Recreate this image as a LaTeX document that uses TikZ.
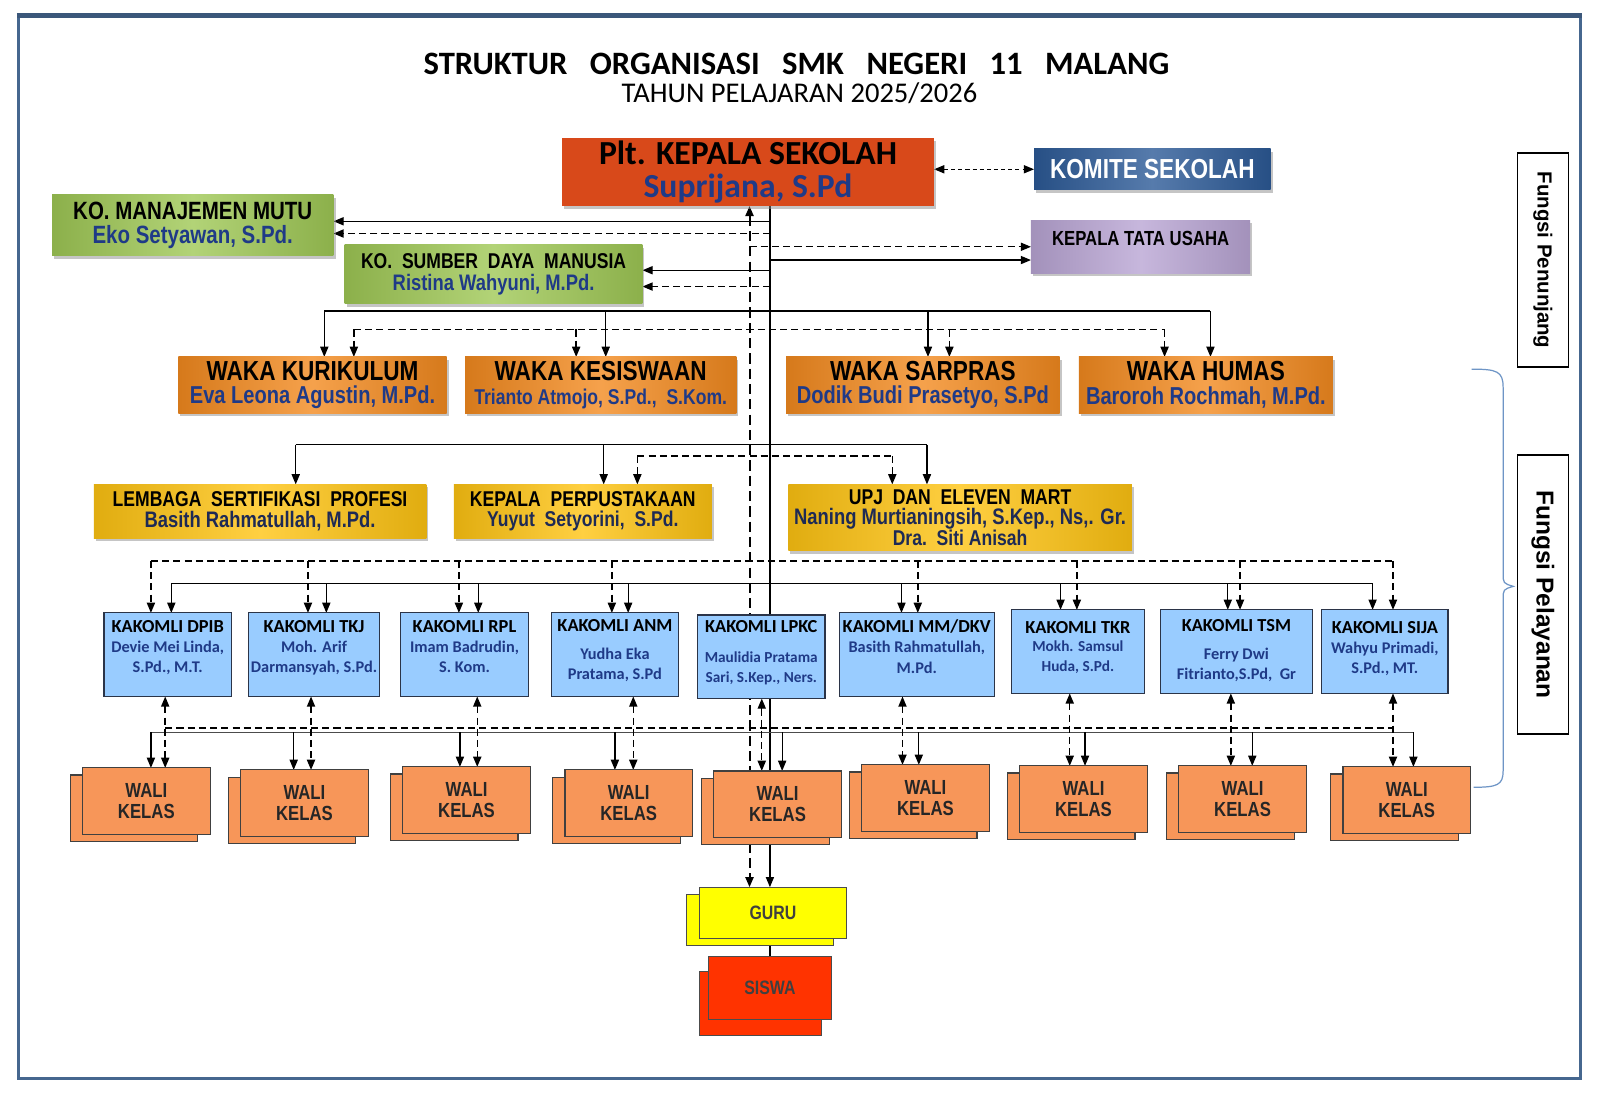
\documentclass[tikz,border=0pt]{standalone}
\usepackage{fontspec}
\setmainfont{Carlito}
\newfontfamily\narrowfont[FakeStretch=0.82]{Liberation Sans}
\newfontfamily\arialfont{Liberation Sans}
\usetikzlibrary{arrows.meta,shadows,backgrounds}
\definecolor{frameblue}{HTML}{46678F}
\definecolor{ksred}{HTML}{D8491A}
\definecolor{namblue}{HTML}{1F3A87}
\definecolor{yelname}{HTML}{1E2A55}
\definecolor{komblue}{HTML}{2C5A97}
\definecolor{tulilac}{HTML}{B9A5D4}
\definecolor{kogreen}{HTML}{9FC855}
\definecolor{wakaorg}{HTML}{F38A1F}
\definecolor{lspgold}{HTML}{FFC412}
\definecolor{kakblue}{HTML}{99CCFF}
\definecolor{kakline}{HTML}{2B3448}
\definecolor{walisal}{HTML}{F79659}
\definecolor{guruyel}{HTML}{FFFF00}
\definecolor{siswared}{HTML}{FF3300}
\definecolor{bracebl}{HTML}{6E95C6}
\newcommand\fsz[2]{\fontsize{#1}{#2}\selectfont}
\newcommand\pname[1]{\textcolor{namblue}{#1}}
\newcommand\yname[1]{\textcolor{yelname}{#1}}
\newcommand\kname[1]{{\color{namblue}\fsz{16}{20}#1}}
\newcommand\pushup[1]{\\[#1]\mbox{}}

\tikzset{
  box/.style={anchor=north west, inner sep=0pt, outer sep=0pt, align=center},
  dshadow/.style={drop shadow={shadow xshift=2pt, shadow yshift=-3pt, fill=black!45, opacity=.5}},
  bevel/.style={box, dshadow, left color=#1!88!black, right color=#1!88!black, middle color=#1!80!white},
  wakabox/.style={bevel=wakaorg, minimum height=55pt, font=\narrowfont\bfseries\fsz{27}{23}},
  yelbox/.style={bevel=lspgold, minimum height=53pt, font=\narrowfont\bfseries\fsz{21}{20}},
  kakbox/.style={box, fill=kakblue, draw=kakline, line width=1.2pt, minimum height=82pt, font=\bfseries\fsz{18}{20}},
  walibox/.style={box, fill=walisal, draw=black!75, line width=1.1pt,
    copy shadow={shadow xshift=-12pt, shadow yshift=-7pt, fill=walisal, draw=black!75, line width=1.1pt},
    minimum width=125pt, minimum height=65pt, font=\narrowfont\bfseries\fsz{20}{21}, text=black!85},
  fungsi/.style={draw, line width=1.5pt, fill=white, rotate=-90, minimum height=50pt, inner sep=0pt},
  sline/.style={line width=1.2pt},
  dline/.style={line width=1.4pt, dash pattern=on 7pt off 4pt},
  arw/.style={-{Triangle[length=10pt,width=8pt]}},
  arwb/.style={{Triangle[length=10pt,width=8pt]}-{Triangle[length=10pt,width=8pt]}}
}

\begin{document}
\begin{tikzpicture}[x=1pt,y=-1pt]
    \useasboundingbox (0,0) rectangle (1569,1076);
    \begin{scope}[on background layer]
      \fill[white] (0,0) rectangle (1569,1076);
    \end{scope}
    \draw[frameblue, line width=3pt] (18,15) rectangle (1550,1058);
    \draw[frameblue!85!black, line width=4.5pt] (16.5,15) -- (1551.5,15);

    % judul
    \node[font=\bfseries\fsz{32}{34}, anchor=base] (judul) at (781,73) {STRUKTUR\hspace{22pt}ORGANISASI\hspace{22pt}SMK\hspace{22pt}NEGERI\hspace{22pt}11\hspace{22pt}MALANG};
    \node[font=\fsz{28}{30}, anchor=base] (tahun) at (784,101) {TAHUN PELAJARAN 2025/2026};

    % pimpinan
    \node[box, dshadow, fill=ksred, minimum width=365pt, minimum height=67pt, font=\bfseries\fsz{33}{32}] (ks) at (551,135) {Plt. KEPALA SEKOLAH\\\pname{Suprijana, S.Pd}};
    \node[bevel=komblue, minimum width=232pt, minimum height=40pt, font=\narrowfont\bfseries\fsz{27}{27}, text=white] (komite) at (1014,146) {KOMITE SEKOLAH};
    \node[bevel=tulilac, minimum width=215pt, minimum height=52pt, font=\narrowfont\bfseries\fsz{20}{19}] (tu) at (1011,216) {KEPALA TATA USAHA\pushup{-3pt}};
    \node[bevel=kogreen, minimum width=276pt, minimum height=60pt, font=\narrowfont\bfseries\fsz{24.5}{24}] (mutu) at (51,191) {KO. MANAJEMEN MUTU\\\pname{Eko Setyawan, S.Pd.}};
    \node[bevel=kogreen, minimum width=292pt, minimum height=58pt, font=\narrowfont\bfseries\fsz{21}{21}] (sdm) at (338,240) {KO.\ \ SUMBER\ \ DAYA\ \ MANUSIA\\\pname{\fsz{22}{21}Ristina Wahyuni, M.Pd.}};

    % waka
    \node[wakabox, minimum width=263pt] (kur) at (175,350) {WAKA KURIKULUM\\\pname{\fsz{24}{23}Eva Leona Agustin, M.Pd.}};
    \node[wakabox, minimum width=266pt] (kes) at (456,350) {WAKA KESISWAAN\\\pname{\fsz{21}{23}Trianto Atmojo, S.Pd.,\ \ S.Kom.}};
    \node[wakabox, minimum width=268pt] (sar) at (771,350) {WAKA SARPRAS\\\pname{\fsz{24}{23}Dodik Budi Prasetyo, S.Pd}};
    \node[wakabox, minimum width=249pt] (hum) at (1058,350) {WAKA HUMAS\\\pname{\fsz{24}{23}Baroroh Rochmah, M.Pd.}};

    % unit
    \node[yelbox, minimum width=326pt] (lsp) at (92,475) {LEMBAGA\ \ SERTIFIKASI\ \ PROFESI\\\yname{\fsz{22}{20}Basith Rahmatullah, M.Pd.}};
    \node[yelbox, minimum width=253pt] (perpus) at (445,475) {KEPALA\ \ PERPUSTAKAAN\\\yname{\fsz{21}{20}Yuyut\ \ Setyorini,\ \ S.Pd.}};
    \node[yelbox, minimum width=337pt, minimum height=65pt] (upj) at (773,475) {UPJ\ \ DAN\ \ ELEVEN\ \ MART\\\yname{\fsz{22}{20}Naning Murtianingsih, S.Kep., Ns,. Gr.}\\\yname{\fsz{21}{20}Dra.\ \ Siti Anisah}};

    % kakomli
    \node[kakbox, minimum width=125pt] (kdpib) at (102,601) {KAKOMLI DPIB\\\kname{Devie Mei Linda,}\\\kname{S.Pd., M.T.}\pushup{-4pt}};
    \node[kakbox, minimum width=128pt] (ktkj) at (244,601) {KAKOMLI TKJ\\\kname{Moh. Arif}\\\kname{Darmansyah, S.Pd.}\pushup{-4pt}};
    \node[kakbox, minimum width=125pt] (krpl) at (393,601) {KAKOMLI RPL\\\kname{Imam Badrudin,}\\\kname{S. Kom.}\pushup{-4pt}};
    \node[kakbox, minimum width=124pt] (kanm) at (541,601) {KAKOMLI ANM\\[7pt]\kname{Yudha Eka}\\\kname{Pratama, S.Pd}\pushup{-10pt}};
    \node[kakbox, minimum width=125pt] (klpkc) at (684,603) {KAKOMLI LPKC\\[9pt]\kname{\fsz{15}{20}Maulidia Pratama}\\\kname{\fsz{15}{20}Sari, S.Kep., Ners.}\pushup{-10pt}};
    \node[kakbox, minimum width=152pt] (kmm) at (823,601) {KAKOMLI MM/DKV\\\kname{Basith Rahmatullah,}\\\kname{M.Pd.}\pushup{-4pt}};
    \node[kakbox, minimum width=130pt] (ktkr) at (992,598) {KAKOMLI TKR\\[-2pt]\kname{\fsz{15}{20}Mokh. Samsul}\\\kname{\fsz{15}{20}Huda, S.Pd.}\pushup{-10pt}};
    \node[kakbox, minimum width=149pt] (ktsm) at (1138,598) {KAKOMLI TSM\\[7pt]\kname{Ferry Dwi}\\\kname{Fitrianto,S.Pd,\ \ Gr}\pushup{-16pt}};
    \node[kakbox, minimum width=124pt] (ksija) at (1296,598) {\mbox{}\\[-14pt]KAKOMLI SIJA\\\kname{Wahyu Primadi,}\\\kname{S.Pd., MT.}};

    % wali kelas
    \node[walibox] (w1) at (81,753) {WALI\\KELAS};
    \node[walibox] (w2) at (236,755) {WALI\\KELAS};
    \node[walibox] (w3) at (395,752) {WALI\\KELAS};
    \node[walibox] (w4) at (554,755) {WALI\\KELAS};
    \node[walibox] (w5) at (700,756) {WALI\\KELAS};
    \node[walibox] (w6) at (845,750) {WALI\\KELAS};
    \node[walibox] (w7) at (1000,751) {WALI\\KELAS};
    \node[walibox] (w8) at (1156,751) {WALI\\KELAS};
    \node[walibox] (w9) at (1317,752) {WALI\\KELAS};

    % guru, siswa
    \node[box, fill=guruyel, draw=black!70, line width=1.1pt,
      copy shadow={shadow xshift=-13pt, shadow yshift=-7pt, fill=guruyel, draw=black!70, line width=1.1pt},
      minimum width=144pt, minimum height=50pt, font=\narrowfont\bfseries\fsz{19}{19}, text=black!75] (guru) at (686,870) {GURU};
    \node[box, fill=siswared, draw=black!70, line width=1.1pt,
      copy shadow={shadow xshift=-9pt, shadow yshift=-15pt, fill=siswared, draw=black!70, line width=1.1pt},
      minimum width=120pt, minimum height=62pt, font=\narrowfont\bfseries\fsz{19}{19}, text=black!75] (siswa) at (695,938) {SISWA};

    % fungsi
    \node[fungsi, minimum width=210pt, font=\arialfont\bfseries\fsz{20}{20}] (penunjang) at (1513,255) {Fungsi Penunjang};
    \node[fungsi, minimum width=274pt, font=\arialfont\bfseries\fsz{24}{24}] (pelayanan) at (1513,583) {Fungsi Pelayanan};
    \draw[bracebl, line width=1.2pt] (1443,362) .. controls (1468,362) and (1474,364) .. (1474,380) -- (1474,562)
      .. controls (1474,572) .. (1484,575) .. controls (1474,578) .. (1474,588) -- (1474,756)
      .. controls (1474,770) and (1468,772) .. (1445,772);

    % garis
    \begin{scope}[on background layer]
      \coordinate (tD) at (735,0);
      \coordinate (tS) at (755,0);
      \draw[line width=1.1pt, dash pattern=on 4pt off 3pt, arwb] (ks.east |- komite.west) -- (komite.west);
      \draw[line width=2pt, dash pattern=on 10pt off 5pt, arwb] (ks.south -| tD) -- (guru.north -| tD);
      \draw[sline, arw] (ks.south -| tS) -- (guru.north -| tS);
      \draw[sline] (guru.south -| tS) -- (siswa.north -| tS);
      % staf
      \draw[sline, arw] (tS |- 0,217) -- (mutu.east |- 0,217);
      \draw[dline, arw] (tS |- 0,229) -- (mutu.east |- 0,229);
      \draw[sline, arw] (tS |- 0,265) -- (sdm.east |- 0,265);
      \draw[dline, arw] (tS |- 0,281) -- (sdm.east |- 0,281);
      \draw[dline, arw] (tD |- 0,242) -- (tu.west |- 0,242);
      \draw[sline, arw] (tS |- 0,255) -- (tu.west |- 0,255);
      % waka
      \coordinate (bw) at (0,305);
      \coordinate (bwd) at (0,323);
      \draw[sline] (318,305) -- (1187,305);
      \draw[dline] (347,323) -- (1142,323);
      \foreach \n/\x in {kur/318,kes/594,sar/910,hum/1187}
        \draw[sline, arw] (\x,0 |- bw) -- (\n.north -| \x,0);
      \foreach \n/\x in {kur/347,kes/565,sar/931,hum/1142}
        \draw[dline, arw] (\x,0 |- bwd) -- (\n.north -| \x,0);
      % unit
      \coordinate (bu) at (0,436);
      \coordinate (bud) at (0,447);
      \draw[sline] (290,436) -- (909,436);
      \draw[dline] (625,447) -- (875,447);
      \foreach \n/\x in {lsp/290,perpus/592,upj/909}
        \draw[sline, arw] (\x,0 |- bu) -- (\n.north -| \x,0);
      \foreach \n/\x in {perpus/625,upj/875}
        \draw[dline, arw] (\x,0 |- bud) -- (\n.north -| \x,0);
      % kakomli
      \coordinate (bk) at (0,572);
      \coordinate (bkd) at (0,550);
      \draw[dline] (148,550) -- (1366,550);
      \draw[sline] (168,572) -- (1346,572);
      \foreach \k/\d/\s in {kdpib/148/168,ktkj/302/320,krpl/450/469,kanm/600/616,kmm/900/884,ktkr/1056/1040,ktsm/1216/1204,ksija/1366/1346} {
        \draw[dline, arw] (\d,0 |- bkd) -- (\k.north -| \d,0);
        \draw[sline, arw] (\s,0 |- bk) -- (\k.north -| \s,0);
      }
      % wali kelas
      \coordinate (bl) at (0,718);
      \draw[dline] (162,714) -- (1366,714);
      \draw[sline, black!70] (148,718) -- (1386,718);
      \foreach \k/\w/\d/\s in {kdpib/w1/162/148,ktkj/w2/305/288,krpl/w3/468/451,kanm/w4/621/603,klpkc/w5/747/767,kmm/w6/885/901,ktkr/w7/1049/1064,ktsm/w8/1207/1228,ksija/w9/1366/1386} {
        \draw[dline, arwb] (\k.south -| \d,0) -- (\w.north -| \d,0);
        \draw[sline, arw] (\s,0 |- bl) -- (\w.north -| \s,0);
      }
    \end{scope}
\end{tikzpicture}
\end{document}
